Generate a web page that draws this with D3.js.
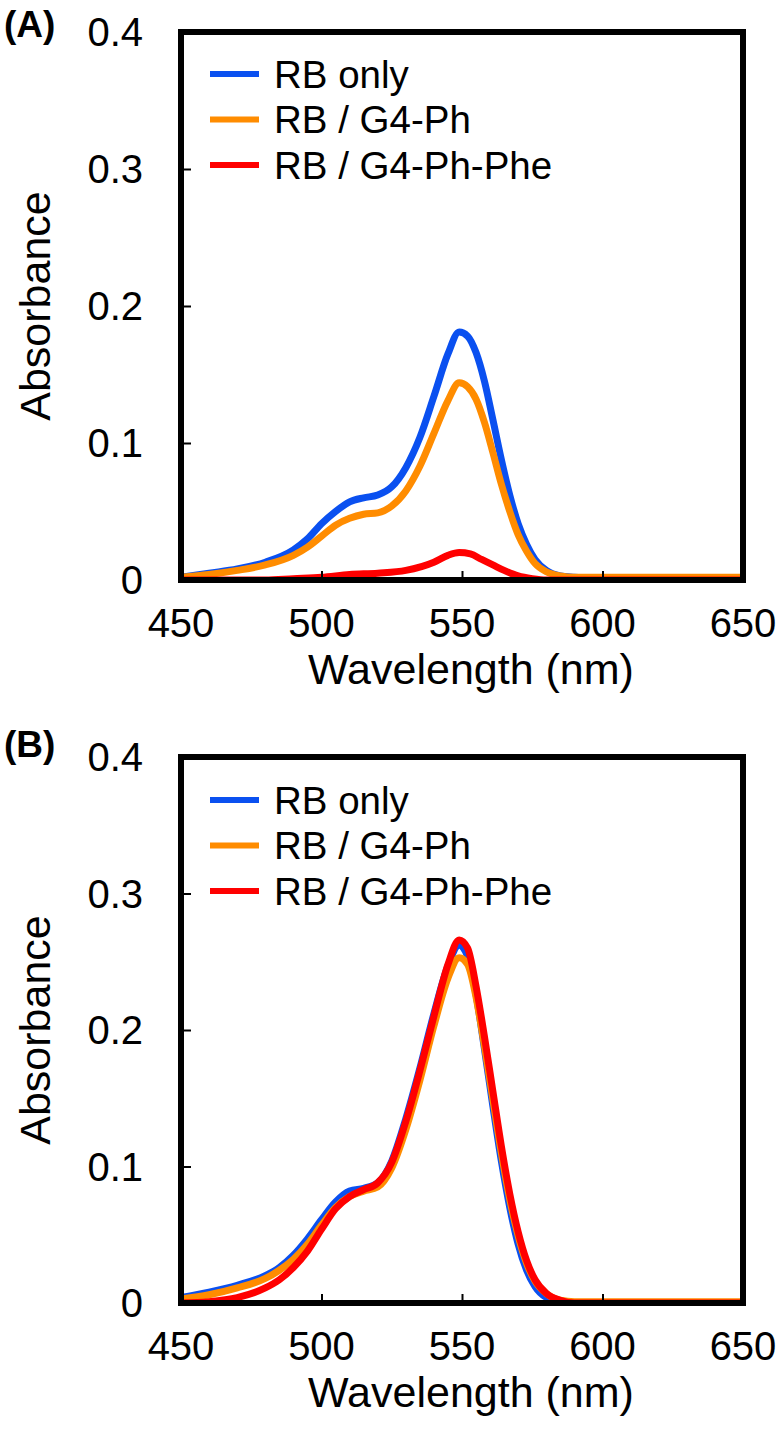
<!DOCTYPE html>
<html><head><meta charset="utf-8">
<script src="https://cdn.jsdelivr.net/npm/d3@7"></script>
<style>body{margin:0;background:#fff}svg{display:block}text{font-family:"Liberation Sans",Arial,sans-serif}</style>
</head><body><svg id="c" width="782" height="1435"></svg>
<script>
const seriesNames = ["RB only","RB / G4-Ph","RB / G4-Ph-Phe"];
const colors = ["#0a50f0","#ff8c00","#ff0000"];
const xTicks = [450,500,550,600,650];
const yTicks = [0,0.1,0.2,0.3,0.4];
const yTickLabels = ["0","0.1","0.2","0.3","0.4"];

// Panel A
const wlA_blue  = [450,460,470,480,490,495,500,505,510,515,520,525,530,535,540,545,549,552,555,558,561,564,567,570,573,576,580,585,590,600,650];
const absA_blue = [0.002,0.005,0.008,0.013,0.022,0.030,0.041,0.050,0.057,0.060,0.062,0.068,0.082,0.104,0.134,0.165,0.181,0.178,0.166,0.145,0.117,0.088,0.062,0.041,0.026,0.015,0.007,0.003,0.002,0.001,0.001];
const wlA_orange  = [450,460,470,480,490,495,500,505,510,515,520,525,530,535,540,545,549,552,555,558,561,564,567,570,573,576,580,585,590,600,650];
const absA_orange = [0.002,0.004,0.007,0.011,0.018,0.024,0.032,0.040,0.045,0.048,0.049,0.054,0.065,0.083,0.107,0.131,0.144,0.141,0.132,0.115,0.093,0.070,0.050,0.033,0.021,0.012,0.006,0.003,0.002,0.002,0.002];
const wlA_red  = [450,480,490,500,510,520,530,540,545,549,553,557,561,565,570,575,580,650];
const absA_red = [0.000,0.000,0.001,0.002,0.004,0.005,0.007,0.013,0.018,0.020,0.019,0.015,0.011,0.007,0.003,0.001,0.000,0.000];

// Panel B
const wlB_blue  = [450,460,470,480,485,490,495,500,505,510,515,520,525,530,535,540,545,549,552,555,558,561,564,567,570,573,576,580,585,590,650];
const absB_blue = [0.004,0.008,0.013,0.020,0.026,0.035,0.047,0.061,0.074,0.082,0.084,0.088,0.104,0.135,0.172,0.212,0.247,0.262,0.254,0.226,0.186,0.144,0.104,0.070,0.043,0.024,0.012,0.004,0.001,0.000,0.000];
const wlB_orange  = [450,460,470,480,485,490,495,500,505,510,515,520,525,530,535,540,545,549,552,555,558,561,564,567,570,573,576,580,585,590,600,650];
const absB_orange = [0.003,0.006,0.011,0.018,0.024,0.032,0.043,0.057,0.070,0.078,0.082,0.085,0.099,0.127,0.163,0.203,0.238,0.253,0.248,0.224,0.188,0.149,0.110,0.076,0.049,0.029,0.016,0.007,0.002,0.001,0.001,0.001];
const wlB_red  = [450,460,470,480,485,490,495,500,505,510,515,520,525,530,535,540,545,549,552,555,558,561,564,567,570,573,576,580,585,590,650];
const absB_red = [0.000,0.001,0.004,0.011,0.017,0.026,0.038,0.054,0.069,0.078,0.083,0.088,0.103,0.133,0.170,0.210,0.248,0.266,0.260,0.232,0.195,0.155,0.115,0.080,0.052,0.031,0.017,0.007,0.002,0.000,0.000];

const panels = [
  {label:"(A)", top:32, bottom:580, labelY:37, legendY:74, series:[[wlA_blue,absA_blue],[wlA_orange,absA_orange],[wlA_red,absA_red]]},
  {label:"(B)", top:757, bottom:1303, labelY:757, legendY:800, series:[[wlB_blue,absB_blue],[wlB_orange,absB_orange],[wlB_red,absB_red]]}
];
const svg = d3.select("#c");
const L = 181, R = 743;
panels.forEach(p => {
  const x = d3.scaleLinear().domain([450,650]).range([L,R]);
  const y = d3.scaleLinear().domain([0,0.4]).range([p.bottom,p.top]);
  const g = svg.append("g");
  const cid = "clip"+p.label.replace(/\W/g,"");
  g.append("clipPath").attr("id",cid).append("rect").attr("x",L).attr("y",p.top).attr("width",R-L).attr("height",p.bottom-p.top);
  const line = d3.line().x(d=>x(d[0])).y(d=>y(d[1])).curve(d3.curveMonotoneX);
  p.series.forEach((s,i) => {
    const pts = s[0].map((w,k)=>[w,s[1][k]]);
    g.append("path").attr("d",line(pts)).attr("fill","none").attr("stroke",colors[i]).attr("stroke-width",7).attr("stroke-linejoin","round").attr("clip-path",`url(#${cid})`);
  });
  const xa = d3.axisBottom(x).tickValues(xTicks).tickSize(-9).tickFormat("");
  g.append("g").attr("transform",`translate(0,${p.bottom})`).call(xa).call(a=>{a.select(".domain").remove();a.selectAll("line").attr("stroke","#000").attr("stroke-width",2);});
  const ya = d3.axisLeft(y).tickValues(yTicks).tickSize(-10).tickFormat("");
  g.append("g").attr("transform",`translate(${L},0)`).call(ya).call(a=>{a.select(".domain").remove();a.selectAll("line").attr("stroke","#000").attr("stroke-width",2);});
  g.append("rect").attr("x",L).attr("y",p.top).attr("width",R-L).attr("height",p.bottom-p.top).attr("fill","none").attr("stroke","#000").attr("stroke-width",6);
  g.selectAll(".xl").data(xTicks).enter().append("text").attr("x",d=>x(d)).attr("y",p.bottom+57).attr("text-anchor","middle").attr("font-size",40).text(d=>d);
  g.selectAll(".yl").data(yTicks).enter().append("text").attr("x",L-38).attr("y",d=>y(d)).attr("dy","0.36em").attr("text-anchor","end").attr("font-size",40).text((d,i)=>yTickLabels[i]);
  g.append("text").attr("x",(L+R)/2 + 9).attr("y",p.bottom+104).attr("text-anchor","middle").attr("font-size",43).text("Wavelength (nm)");
  g.append("text").attr("transform",`translate(50,${(p.top+p.bottom)/2}) rotate(-90)`).attr("text-anchor","middle").attr("font-size",43).text("Absorbance");
  g.append("text").attr("x",4).attr("y",p.labelY).attr("font-size",37).attr("font-weight","bold").text(p.label);
  const lgap = 45.5;
  seriesNames.forEach((n,i)=>{
    const yy = p.legendY + i*lgap;
    g.append("line").attr("x1",L+29).attr("x2",L+78).attr("y1",yy).attr("y2",yy).attr("stroke",colors[i]).attr("stroke-width",6);
    g.append("text").attr("x",L+93).attr("y",yy).attr("dy","0.36em").attr("font-size",38.5).text(n);
  });
});
</script></body></html>
